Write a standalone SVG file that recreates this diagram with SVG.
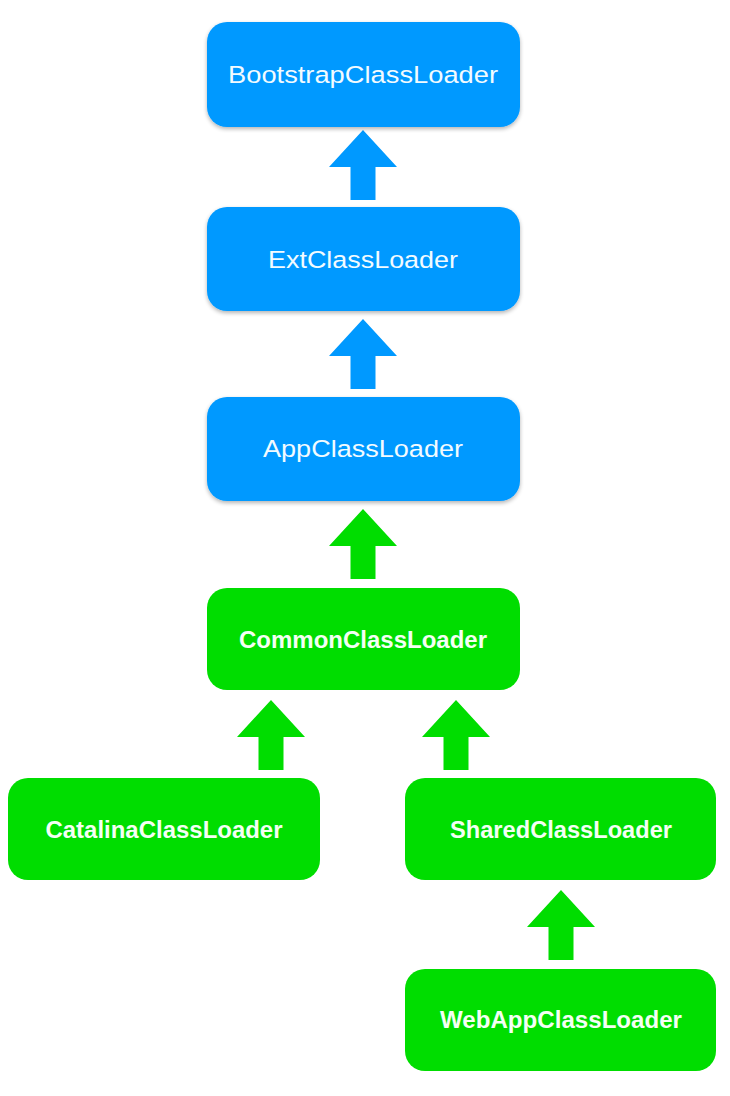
<svg xmlns="http://www.w3.org/2000/svg" width="730" height="1096" viewBox="0 0 730 1096">
<style>
.blue{fill:#0099FF}
.green{fill:#00DD00}
.box{filter:url(#sh)}
.tb{font-family:"Liberation Sans",Arial,sans-serif;font-size:24.5px;fill:#F2FBFF;text-anchor:middle}
.tg{font-family:"Liberation Sans",Arial,sans-serif;font-size:23px;font-weight:bold;fill:#F4FFF4;text-anchor:middle}
</style>
<defs>
<filter id="sh" x="-10%" y="-10%" width="120%" height="130%">
<feGaussianBlur in="SourceAlpha" stdDeviation="2"/>
<feOffset dx="0" dy="2" result="b"/>
<feComponentTransfer><feFuncA type="linear" slope="0.3"/></feComponentTransfer>
<feMerge><feMergeNode/><feMergeNode in="SourceGraphic"/></feMerge>
</filter>
<path id="arr" d="M0,0 L34,37 L12.5,37 L12.5,70 L-12.5,70 L-12.5,37 L-34,37 Z"/>
</defs>
<rect width="730" height="1096" fill="#FFFFFF"/>
<g id="connectors">
<use href="#arr" class="blue" x="363" y="130"/>
<use href="#arr" class="blue" x="363" y="319"/>
<use href="#arr" class="green" x="363" y="509"/>
<use href="#arr" class="green" x="271" y="700"/>
<use href="#arr" class="green" x="456" y="700"/>
<use href="#arr" class="green" x="561" y="890"/>
</g>
<g id="bootstrap">
<rect class="blue box" x="207" y="22" width="313" height="105" rx="20"/>
<text class="tb" x="363" y="83" textLength="270" lengthAdjust="spacingAndGlyphs">BootstrapClassLoader</text>
</g>
<g id="ext">
<rect class="blue box" x="207" y="207" width="313" height="104" rx="20"/>
<text class="tb" x="363" y="268" textLength="190" lengthAdjust="spacingAndGlyphs">ExtClassLoader</text>
</g>
<g id="app">
<rect class="blue box" x="207" y="397" width="313" height="104" rx="20"/>
<text class="tb" x="363" y="457" textLength="200" lengthAdjust="spacingAndGlyphs">AppClassLoader</text>
</g>
<g id="common">
<rect class="green" x="207" y="588" width="313" height="102" rx="20"/>
<text class="tg" x="363" y="648" textLength="248" lengthAdjust="spacingAndGlyphs">CommonClassLoader</text>
</g>
<g id="catalina">
<rect class="green" x="8" y="778" width="312" height="102" rx="20"/>
<text class="tg" x="164" y="838" textLength="237" lengthAdjust="spacingAndGlyphs">CatalinaClassLoader</text>
</g>
<g id="shared">
<rect class="green" x="405" y="778" width="311" height="102" rx="20"/>
<text class="tg" x="561" y="838" textLength="222" lengthAdjust="spacingAndGlyphs">SharedClassLoader</text>
</g>
<g id="webapp">
<rect class="green" x="405" y="969" width="311" height="102" rx="20"/>
<text class="tg" x="561" y="1028" textLength="242" lengthAdjust="spacingAndGlyphs">WebAppClassLoader</text>
</g>
</svg>
